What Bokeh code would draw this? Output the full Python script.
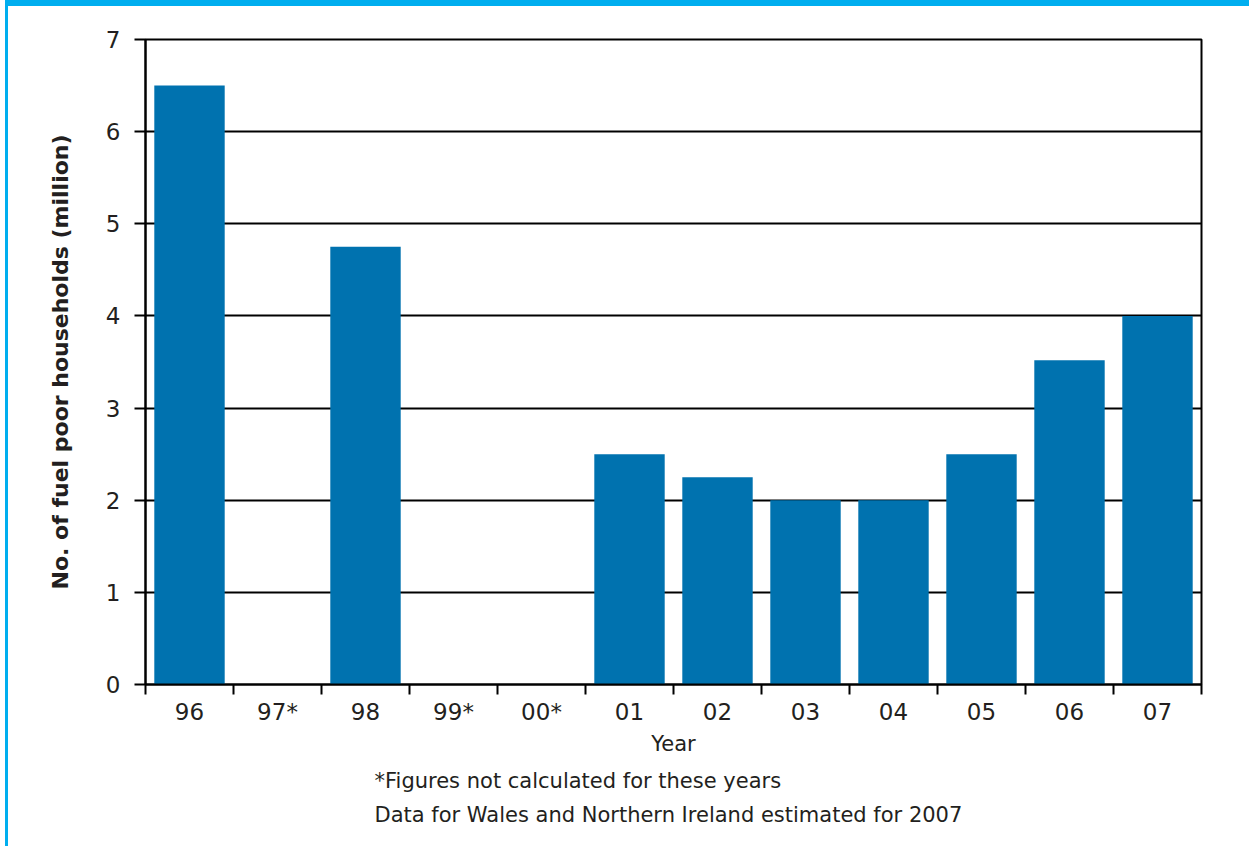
from bokeh.plotting import figure
from bokeh.models import Range1d, FixedTicker, Title
from bokeh.embed import file_html
from bokeh.resources import INLINE

years = ["96", "97*", "98", "99*", "00*", "01", "02", "03", "04", "05", "06", "07"]
households = [6.5, None, 4.75, None, None, 2.5, 2.25, 2.0, 2.0, 2.5, 3.52, 4.0]
y_ticks = [0, 1, 2, 3, 4, 5, 6, 7]
y_title = "No. of fuel poor households (million)"
x_title = "Year"
notes = ["*Figures not calculated for these years",
         "Data for Wales and Northern Ireland estimated for 2007"]

FONT = "DejaVu Sans"
TXT = "#231F20"
BAR = "#0072AF"
EDGE = "#00AEEF"

W, H = 1244, 846
p = figure(width=W, height=H, output_backend="svg", toolbar_location=None,
           x_range=Range1d(0, len(years)), y_range=Range1d(0, 7),
           min_border_left=137, min_border_right=51, min_border_top=33,
           min_border_bottom=168)
p.background_fill_color = "white"
p.border_fill_color = "white"
p.outline_line_color = "black"
p.outline_line_width = 2
p.styles = {"border-top": "6px solid " + EDGE, "border-left": "3px solid " + EDGE,
            "margin-left": "5px"}

xs = [i + 0.5 for i, v in enumerate(households) if v is not None]
tops = [v for v in households if v is not None]
p.vbar(x=xs, top=tops, width=0.8, bottom=0, fill_color=BAR, line_color=None)

# grid
p.xgrid.visible = False
p.ygrid.ticker = FixedTicker(ticks=y_ticks)
p.ygrid.grid_line_color = "black"
p.ygrid.grid_line_width = 2

# y axis
ya = p.yaxis[0]
ya.ticker = FixedTicker(ticks=y_ticks)
ya.axis_line_color = "black"
ya.axis_line_width = 2
ya.major_tick_line_color = "black"
ya.major_tick_line_width = 2
ya.major_tick_out = 11
ya.major_tick_in = 0
ya.minor_tick_line_color = None
ya.major_label_standoff = 14
ya.major_label_text_font = FONT
ya.major_label_text_font_size = "23px"
ya.major_label_text_color = TXT
ya.axis_label = y_title
ya.axis_label_text_font = FONT
ya.axis_label_text_font_style = "bold"
ya.axis_label_text_font_size = "22px"
ya.axis_label_text_color = TXT
ya.axis_label_standoff = 30

# x axis
xa = p.xaxis[0]
centers = [i + 0.5 for i in range(len(years))]
bounds = [float(i) for i in range(len(years) + 1)]
xa.ticker = FixedTicker(ticks=centers, minor_ticks=bounds)
xa.major_label_overrides = {c: y for c, y in zip(centers, years)}
xa.axis_line_color = "black"
xa.axis_line_width = 2
xa.major_tick_line_color = None
xa.major_tick_out = 0
xa.major_tick_in = 0
xa.minor_tick_line_color = "black"
xa.minor_tick_line_width = 2
xa.minor_tick_out = 10
xa.minor_tick_in = 0
xa.major_label_standoff = 4
xa.major_label_text_font = FONT
xa.major_label_text_font_size = "23px"
xa.major_label_text_color = TXT
xa.axis_label = x_title
xa.axis_label_text_font = FONT
xa.axis_label_text_font_style = "normal"
xa.axis_label_text_font_size = "21px"
xa.axis_label_text_color = TXT
xa.axis_label_standoff = 4

# footnotes as left-aligned titles below the x axis
for t, gap in zip(notes, [16, 1]):
    p.add_layout(Title(text=t, align="left", offset=375 - 145 - 1, standoff=gap,
                       text_font=FONT, text_font_style="normal",
                       text_font_size="21px", text_color=TXT), "below")

open("out.html", "w").write(file_html(p, INLINE))
